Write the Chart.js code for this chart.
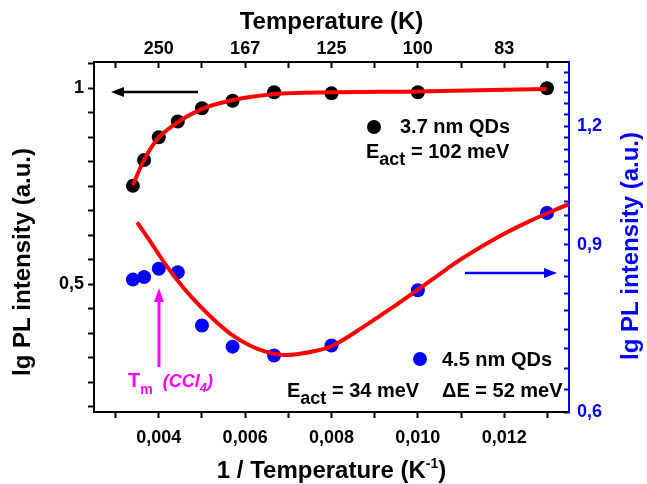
<!DOCTYPE html>
<html>
<head>
<meta charset="utf-8">
<script src="https://cdn.jsdelivr.net/npm/chart.js@4.4.1/dist/chart.umd.min.js"></script>
<style>
  html, body { margin: 0; padding: 0; background: #fff; }
  #wrap { width: 647px; height: 484px; }
</style>
</head>
<body>
<div id="wrap"><canvas id="chart" width="647" height="484"></canvas></div>
<script>
// measured points, x = 1/T (K^-1)
const invTemps = [0.00340, 0.00366, 0.00400, 0.00444, 0.00500, 0.00571, 0.00667, 0.00800, 0.01000, 0.01299];
const qd37Values = [0.751, 0.817, 0.875, 0.915, 0.949, 0.968, 0.990, 0.987, 0.990, 1.000];
const qd45Values = [0.827, 0.832, 0.849, 0.842, 0.740, 0.703, 0.688, 0.705, 0.806, 0.972];

// red fit curves
const fit37X = [0.00340, 0.00364, 0.00395, 0.00441, 0.00495, 0.00572, 0.00665, 0.00804, 0.01000, 0.01298];
const fit37Y = [0.753, 0.813, 0.868, 0.911, 0.945, 0.970, 0.985, 0.990, 0.992, 0.998];
const fit45X = [0.00350, 0.00379, 0.00418, 0.00456, 0.00495, 0.00534, 0.00572, 0.00611, 0.00649, 0.00688, 0.00726,
                0.00765, 0.00804, 0.00873, 0.00950, 0.01000, 0.01066, 0.01105, 0.01182, 0.01259, 0.01349];
const fit45Y = [0.950, 0.909, 0.855, 0.812, 0.776, 0.746, 0.722, 0.705, 0.694, 0.689, 0.691,
                0.696, 0.705, 0.737, 0.778, 0.807, 0.848, 0.872, 0.915, 0.953, 0.993];

// axis ticks
const bottomTickValues = [0.004, 0.006, 0.008, 0.010, 0.012];
const bottomTickLabels = ['0,004', '0,006', '0,008', '0,010', '0,012'];
const topTickLabels = ['250', '167', '125', '100', '83'];
const leftTickValues = [0.5, 1.0];
const leftTickLabels = ['0,5', '1'];
const rightTickValues = [0.6, 0.9, 1.2];
const rightTickLabels = ['0,6', '0,9', '1,2'];

const FONT = "'Liberation Sans', Arial, sans-serif";
const BLUE = '#0000ff';
const RED = '#ff0000';
const MAGENTA = '#ff00ff';

function toPoints(xs, ys) {
  return xs.map((x, i) => ({ x: x, y: ys[i] }));
}

function stepTicks(from, to, step) {
  const out = [];
  for (let i = 0; ; i++) {
    const v = from + i * step;
    if (v > to + 1e-9) break;
    out.push({ value: +v.toFixed(6) });
  }
  return out;
}

function labelFor(value, values, labels) {
  const i = values.findIndex(v => Math.abs(v - value) < 1e-6);
  return i >= 0 ? labels[i] : '';
}

function drawRuns(ctx, x, y, runs) {
  ctx.textBaseline = 'alphabetic';
  ctx.textAlign = 'left';
  runs.forEach(r => {
    ctx.font = r.font;
    ctx.fillStyle = r.color || '#000';
    ctx.fillText(r.text, x, y + (r.dy || 0));
    x += ctx.measureText(r.text).width;
  });
}

function drawArrow(ctx, x1, y1, x2, y2, color, width, headLen, headW) {
  const ang = Math.atan2(y2 - y1, x2 - x1);
  const bx = x2 - Math.cos(ang) * headLen;
  const by = y2 - Math.sin(ang) * headLen;
  ctx.strokeStyle = color;
  ctx.fillStyle = color;
  ctx.lineWidth = width;
  ctx.beginPath();
  ctx.moveTo(x1, y1);
  ctx.lineTo(bx, by);
  ctx.stroke();
  ctx.beginPath();
  ctx.moveTo(x2, y2);
  ctx.lineTo(bx + Math.sin(ang) * headW / 2, by - Math.cos(ang) * headW / 2);
  ctx.lineTo(bx - Math.sin(ang) * headW / 2, by + Math.cos(ang) * headW / 2);
  ctx.closePath();
  ctx.fill();
}

function drawVertical(ctx, text, x, y, font, color) {
  ctx.save();
  ctx.translate(x, y);
  ctx.rotate(-Math.PI / 2);
  ctx.font = font;
  ctx.fillStyle = color;
  ctx.textAlign = 'center';
  ctx.textBaseline = 'middle';
  ctx.fillText(text, 0, 0);
  ctx.restore();
}

const annotations = {
  id: 'annotations',
  afterDraw(chart) {
    const ctx = chart.ctx;
    const ca = chart.chartArea;
    ctx.save();

    // arrows pointing to the axes
    drawArrow(ctx, 198, 92, 111, 92, '#000', 2.5, 13, 10);
    drawArrow(ctx, 465, 273, 557, 273, BLUE, 2.5, 13, 10);
    drawArrow(ctx, 159, 367, 159, 288, MAGENTA, 3, 14, 10);

    // legend-like labels
    ctx.fillStyle = '#000';
    ctx.beginPath();
    ctx.arc(374, 127, 7, 0, Math.PI * 2);
    ctx.fill();
    drawRuns(ctx, 400, 133, [{ text: '3.7 nm QDs', font: `bold 20px ${FONT}` }]);
    drawRuns(ctx, 366, 158, [
      { text: 'E', font: `bold 20px ${FONT}` },
      { text: 'act', font: `bold 18px ${FONT}`, dy: 7 },
      { text: ' = 102 meV', font: `bold 20px ${FONT}` }
    ]);

    ctx.fillStyle = BLUE;
    ctx.beginPath();
    ctx.arc(420, 359, 7, 0, Math.PI * 2);
    ctx.fill();
    drawRuns(ctx, 442, 366, [{ text: '4.5 nm QDs', font: `bold 20px ${FONT}` }]);
    drawRuns(ctx, 287, 397, [
      { text: 'E', font: `bold 20px ${FONT}` },
      { text: 'act', font: `bold 18px ${FONT}`, dy: 7 },
      { text: ' = 34 meV', font: `bold 20px ${FONT}` }
    ]);
    drawRuns(ctx, 442, 397, [{ text: '\u0394E = 52 meV', font: `bold 20px ${FONT}` }]);

    drawRuns(ctx, 128, 387, [
      { text: 'T', font: `bold 20px ${FONT}`, color: MAGENTA },
      { text: 'm', font: `bold 14px ${FONT}`, color: MAGENTA, dy: 7 },
      { text: '  (CCl', font: `italic bold 18px ${FONT}`, color: MAGENTA },
      { text: '4', font: `italic bold 13px ${FONT}`, color: MAGENTA, dy: 5 },
      { text: ')', font: `italic bold 18px ${FONT}`, color: MAGENTA }
    ]);

    // bottom axis title with superscript
    const main = `bold 24px ${FONT}`;
    const sup = `bold 14px ${FONT}`;
    ctx.font = main;
    const w1 = ctx.measureText('1 / Temperature (K').width;
    const w3 = ctx.measureText(')').width;
    ctx.font = sup;
    const w2 = ctx.measureText('-1').width;
    const cx = (ca.left + ca.right) / 2;
    drawRuns(ctx, cx - (w1 + w2 + w3) / 2, 478, [
      { text: '1 / Temperature (K', font: main },
      { text: '-1', font: sup, dy: -10 },
      { text: ')', font: main }
    ]);

    // both y titles read bottom to top
    drawVertical(ctx, 'lg PL intensity (a.u.)', 23, 262, main, '#000');
    drawVertical(ctx, 'lg PL intensity (a.u.)', 631, 246, main, BLUE);

    ctx.restore();
  }
};

const tickFont = { family: FONT, size: 18, weight: 'bold' };

new Chart(document.getElementById('chart'), {
  type: 'scatter',
  data: {
    datasets: [
      {
        data: toPoints(fit37X, fit37Y),
        yAxisID: 'y',
        showLine: true,
        borderColor: RED,
        borderWidth: 4,
        pointRadius: 0,
        cubicInterpolationMode: 'monotone'
      },
      {
        data: toPoints(fit45X, fit45Y),
        yAxisID: 'y2',
        showLine: true,
        borderColor: RED,
        borderWidth: 4,
        pointRadius: 0,
        tension: 0.4
      },
      {
        label: '3.7 nm QDs',
        data: toPoints(invTemps, qd37Values),
        yAxisID: 'y',
        pointRadius: 7,
        pointBorderWidth: 0,
        backgroundColor: '#000'
      },
      {
        label: '4.5 nm QDs',
        data: toPoints(invTemps, qd45Values),
        yAxisID: 'y2',
        pointRadius: 7,
        pointBorderWidth: 0,
        backgroundColor: BLUE
      }
    ]
  },
  options: {
    responsive: false,
    animation: false,
    devicePixelRatio: 1,
    layout: { padding: 0 },
    plugins: { legend: { display: false }, tooltip: { enabled: false } },
    scales: {
      x: {
        type: 'linear',
        position: 'bottom',
        min: 0.0025,
        max: 0.0135,
        bounds: 'data',
        afterFit: s => { s.height = 72; },
        afterBuildTicks: s => { s.ticks = stepTicks(0.003, 0.013, 0.001); },
        border: { color: '#000', width: 2 },
        grid: { drawOnChartArea: false, tickLength: 6, tickWidth: 2, tickColor: '#000' },
        ticks: {
          autoSkip: false, maxRotation: 0, padding: 9, color: '#000', font: tickFont,
          callback: v => labelFor(v, bottomTickValues, bottomTickLabels)
        }
      },
      x2: {
        type: 'linear',
        position: 'top',
        min: 0.0025,
        max: 0.0135,
        bounds: 'data',
        afterFit: s => { s.height = 62; },
        afterBuildTicks: s => { s.ticks = stepTicks(0.003, 0.013, 0.001); },
        border: { color: '#000', width: 2 },
        grid: { drawOnChartArea: false, tickLength: -6, tickWidth: 2, tickColor: '#000' },
        ticks: {
          autoSkip: false, maxRotation: 0, padding: 8, color: '#000', font: tickFont,
          callback: v => labelFor(v, bottomTickValues, topTickLabels)
        },
        title: {
          display: true,
          text: 'Temperature (K)',
          color: '#000',
          font: { family: FONT, size: 24, weight: 'bold', lineHeight: 1.2 },
          padding: { top: 8, bottom: 0 }
        }
      },
      y: {
        type: 'linear',
        position: 'left',
        min: 0.174,
        max: 1.067,
        bounds: 'data',
        afterFit: s => { s.width = 94; },
        afterBuildTicks: s => { s.ticks = stepTicks(0.1875, 1.0625, 0.0625); },
        border: { color: '#000', width: 2 },
        grid: { drawOnChartArea: false, tickLength: 6, tickWidth: 2, tickColor: '#000' },
        ticks: {
          autoSkip: false, padding: 4, color: '#000', font: tickFont,
          callback: v => labelFor(v, leftTickValues, leftTickLabels)
        }
      },
      y2: {
        type: 'logarithmic',
        position: 'right',
        min: 0.6,
        max: 1.4014,
        bounds: 'data',
        afterFit: s => { s.width = 78; },
        afterBuildTicks: s => { s.ticks = stepTicks(0.6, 1.39, 0.1 / 3); },
        border: { color: BLUE, width: 2 },
        grid: { drawOnChartArea: false, tickLength: -5, tickWidth: 2, tickColor: BLUE },
        ticks: {
          autoSkip: false, padding: 13, color: BLUE, font: tickFont,
          callback: v => labelFor(v, rightTickValues, rightTickLabels)
        }
      }
    }
  },
  plugins: [annotations]
});
</script>
</body>
</html>
